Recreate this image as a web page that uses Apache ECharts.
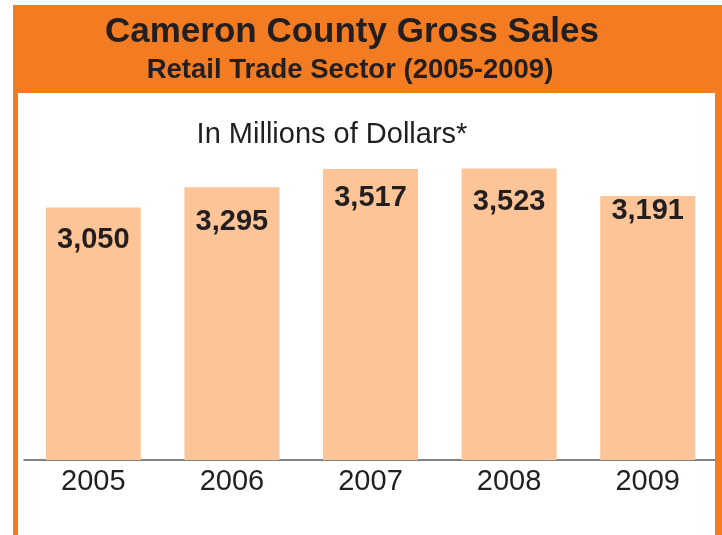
<!DOCTYPE html>
<html>
<head>
<meta charset="utf-8">
<script src="https://cdn.jsdelivr.net/npm/echarts@6/dist/echarts.min.js"></script>
<style>
html,body{margin:0;padding:0;background:#fff;}
#chart{width:722px;height:535px;}
</style>
</head>
<body>
<div id="chart"></div>
<script>
const categories = ['2005', '2006', '2007', '2008', '2009'];
const sales = [3050, 3295, 3517, 3523, 3191];
const titleText = 'Cameron County Gross Sales';
const subtitleText = 'Retail Trade Sector (2005-2009)';
const unitText = 'In Millions of Dollars*';

// label vertical placement inside each bar (style only)
const labelDy = [32, 35, 29, 34, 15];

const FONT = '"Liberation Sans", Arial, Helvetica, sans-serif';
const ORANGE = '#F37B22';
const BAR = '#FDC597';
const INK = '#231F20';

const chart = echarts.init(document.getElementById('chart'));
chart.setOption({
  backgroundColor: '#fff',
  animation: false,
  graphic: [
    { type: 'rect', z: -20, shape: { x: 13, y: 5, width: 709, height: 530 }, style: { fill: ORANGE } },
    { type: 'rect', z: -19, shape: { x: 18, y: 93, width: 697, height: 442 }, style: { fill: '#fff' } },
    { type: 'rect', z: 100, shape: { x: 715, y: 93, width: 7, height: 442 }, style: { fill: ORANGE } },
    { type: 'text', z: 50, x: 352, y: 32,
      style: { text: titleText, font: 'bold 35px ' + FONT, fill: INK, align: 'center', verticalAlign: 'middle', textAlign: 'center', textVerticalAlign: 'middle' } },
    { type: 'text', z: 50, x: 350, y: 70,
      style: { text: subtitleText, font: 'bold 27.5px ' + FONT, fill: INK, align: 'center', verticalAlign: 'middle', textAlign: 'center', textVerticalAlign: 'middle' } },
    { type: 'text', z: 50, x: 332, y: 135,
      style: { text: unitText, font: '29px ' + FONT, fill: INK, align: 'center', verticalAlign: 'middle', textAlign: 'center', textVerticalAlign: 'middle' } }
  ],
  grid: { left: 24, right: 5, top: 129, bottom: 75, containLabel: false },
  xAxis: {
    type: 'category',
    data: categories,
    axisLine: { show: true, lineStyle: { color: '#58595B', width: 1.5 } },
    axisTick: { show: false },
    axisLabel: { color: INK, fontSize: 29, fontFamily: FONT, margin: 7 }
  },
  yAxis: {
    type: 'value',
    min: 0,
    max: 4000,
    show: false,
    splitLine: { show: false }
  },
  series: [{
    type: 'bar',
    barWidth: 95,
    itemStyle: { color: BAR },
    label: {
      show: true,
      align: 'center',
      verticalAlign: 'middle',
      color: INK,
      fontSize: 29,
      fontWeight: 'bold',
      fontFamily: FONT,
      formatter: p => Number(p.value).toLocaleString('en-US')
    },
    data: sales.map((v, i) => ({ value: v, label: { position: ['50%', labelDy[i]] } }))
  }]
});
</script>
</body>
</html>
